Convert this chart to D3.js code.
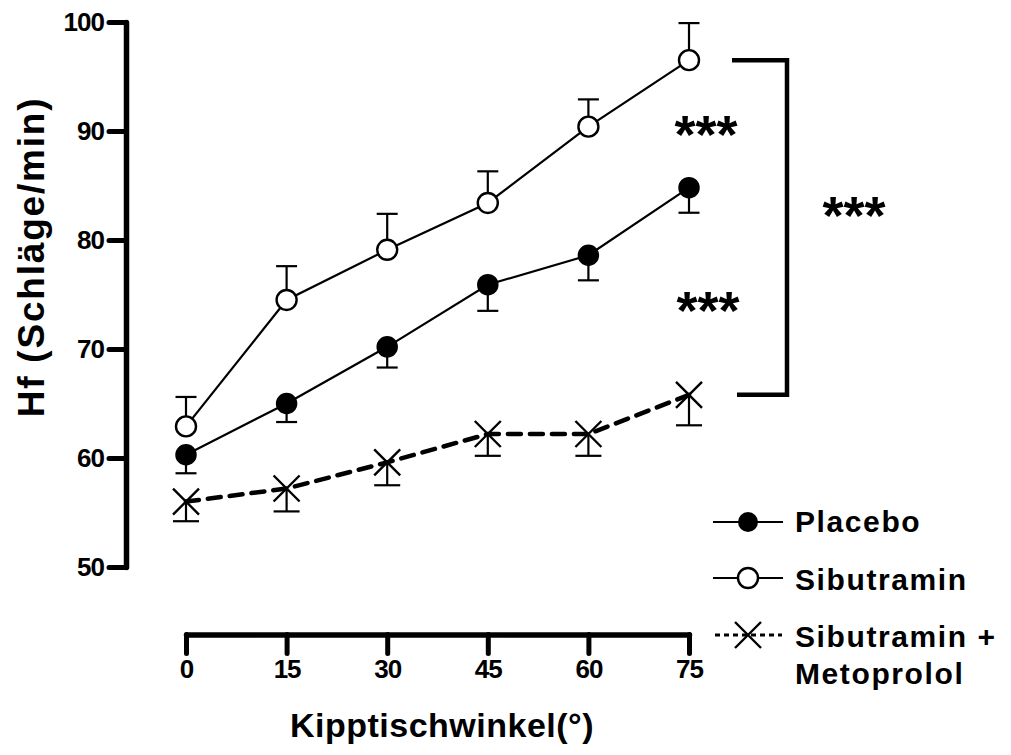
<!DOCTYPE html>
<html>
<head>
<meta charset="utf-8">
<script src="https://cdn.jsdelivr.net/npm/d3@7"></script>
<style>
  body { margin: 0; background: #fff; }
  svg { display: block; font-family: "Liberation Sans", Arial, sans-serif; font-weight: bold; }
</style>
</head>
<body>
<main></main>
<script>
// tilt angles (x categories)
const angles = [0, 15, 30, 45, 60, 75]
const yTicks = [50, 60, 70, 80, 90, 100]

// heart rate means and SEM per group
const placebo = [60.3, 65.0, 70.2, 75.9, 78.6, 84.8]
const placeboErr = [1.7, 1.7, 1.9, 2.4, 2.3, 2.3]
const sibutramin = [62.9, 74.5, 79.1, 83.4, 90.4, 96.5]
const sibutraminErr = [2.7, 3.1, 3.3, 2.9, 2.5, 3.4]
const sibMeto = [56.0, 57.2, 59.6, 62.2, 62.2, 65.8]
const sibMetoErr = [1.8, 2.1, 2.1, 2.0, 2.0, 2.8]

const legendNames = ["Placebo", "Sibutramin", ["Sibutramin +", "Metoprolol"]]

const w = 1011
const h = 755

const svg = d3.select("main").append("svg").attr("width", w).attr("height", h)

const x = d3.scaleLinear().domain([0, 75]).range([186, 689])
const y = d3.scaleLinear().domain([50, 100]).range([567, 22])

// y axis
const yAxis = svg.append("g")
  .attr("transform", "translate(126,0)")
  .call(d3.axisLeft(y).tickValues(yTicks).tickSize(17).tickSizeOuter(0).tickPadding(5))
yAxis.select(".domain").attr("stroke-width", 5.5).attr("stroke-linecap", "round")
yAxis.selectAll(".tick line").attr("stroke-width", 5).attr("stroke-linecap", "round")
yAxis.selectAll(".tick text")
  .attr("font-size", "26px").attr("font-family", "Liberation Sans, Arial").attr("font-weight", "bold")
  .attr("fill", "#000").attr("letter-spacing", "-1px")

// x axis
const xAxis = svg.append("g")
  .attr("transform", "translate(0,634.5)")
  .call(d3.axisBottom(x).tickValues(angles).tickSize(19).tickSizeOuter(0).tickPadding(6))
xAxis.select(".domain").attr("stroke-width", 5.5).attr("stroke-linecap", "round")
xAxis.selectAll(".tick line").attr("stroke-width", 5).attr("stroke-linecap", "round")
xAxis.selectAll(".tick text")
  .attr("font-size", "26px").attr("font-family", "Liberation Sans, Arial").attr("font-weight", "bold")
  .attr("fill", "#000").attr("letter-spacing", "-1px")

// axis titles
svg.append("text")
  .attr("transform", "translate(44,257) rotate(-90)")
  .attr("text-anchor", "middle")
  .attr("font-size", "37px")
  .attr("letter-spacing", "1.8px")
  .text("Hf (Schläge/min)")

svg.append("text")
  .attr("x", 442).attr("y", 737)
  .attr("text-anchor", "middle")
  .attr("font-size", "34px")
  .attr("letter-spacing", "0.5px")
  .text("Kipptischwinkel(°)")

const toPts = (vals) => vals.map((v, i) => ({ a: angles[i], v: v }))
const line = d3.line().x((d) => x(d.a)).y((d) => y(d.v))

// error bars: dir +1 = up, -1 = down
const drawErr = (vals, errs, dir, capW) => {
  const g = svg.append("g").attr("stroke", "#000").attr("stroke-width", 2.2)
  vals.forEach((v, i) => {
    const end = y(v + dir * errs[i])
    g.append("line").attr("x1", x(angles[i])).attr("x2", x(angles[i]))
      .attr("y1", y(v)).attr("y2", end)
    g.append("line").attr("x1", x(angles[i]) - capW / 2).attr("x2", x(angles[i]) + capW / 2)
      .attr("y1", end).attr("y2", end)
  })
}

drawErr(sibutramin, sibutraminErr, 1, 21)
drawErr(placebo, placeboErr, -1, 21)
drawErr(sibMeto, sibMetoErr, -1, 26)

// lines
svg.append("path").datum(toPts(sibutramin)).attr("d", line)
  .attr("fill", "none").attr("stroke", "#000").attr("stroke-width", 2.2)
svg.append("path").datum(toPts(placebo)).attr("d", line)
  .attr("fill", "none").attr("stroke", "#000").attr("stroke-width", 2.2)
svg.append("path").datum(toPts(sibMeto)).attr("d", line)
  .attr("fill", "none").attr("stroke", "#000").attr("stroke-width", 4.5)
  .attr("stroke-dasharray", "13,9").attr("stroke-linecap", "round")

const xMark = (g, cx, cy, s) => {
  g.append("path")
    .attr("d", `M${cx - s},${cy - s}L${cx + s},${cy + s}M${cx - s},${cy + s}L${cx + s},${cy - s}`)
    .attr("stroke", "#000").attr("stroke-width", 2.4).attr("fill", "none")
}

// markers
svg.selectAll(".sib").data(toPts(sibutramin)).enter().append("circle")
  .attr("cx", (d) => x(d.a)).attr("cy", (d) => y(d.v)).attr("r", 10)
  .attr("fill", "#fff").attr("stroke", "#000").attr("stroke-width", 2.4)
svg.selectAll(".pla").data(toPts(placebo)).enter().append("circle")
  .attr("cx", (d) => x(d.a)).attr("cy", (d) => y(d.v)).attr("r", 10)
  .attr("fill", "#000").attr("stroke", "#000").attr("stroke-width", 1.5)
const xg = svg.append("g")
toPts(sibMeto).forEach((d) => xMark(xg, x(d.a), y(d.v), 13))

// significance bracket
const bx = 787
const by1 = y(sibutramin[5])
const by2 = y(sibMeto[5])
svg.append("path")
  .attr("d", `M732,${by1}H${bx}V${by2}H737`)
  .attr("fill", "none").attr("stroke", "#000").attr("stroke-width", 4.5)

const stars = [
  { x: 706, y: 153 },
  { x: 708, y: 329 },
  { x: 854, y: 234 },
]
svg.selectAll(".star").data(stars).enter().append("text")
  .attr("x", (d) => d.x).attr("y", (d) => d.y)
  .attr("text-anchor", "middle").attr("font-size", "54px")
  .text("***")

// legend
const legY = [522, 578, 635]
const lg = svg.append("g")
lg.append("line").attr("x1", 713).attr("x2", 783).attr("y1", legY[0]).attr("y2", legY[0])
  .attr("stroke", "#000").attr("stroke-width", 2.2)
lg.append("circle").attr("cx", 748).attr("cy", legY[0]).attr("r", 10).attr("fill", "#000")
lg.append("line").attr("x1", 713).attr("x2", 783).attr("y1", legY[1]).attr("y2", legY[1])
  .attr("stroke", "#000").attr("stroke-width", 2.2)
lg.append("circle").attr("cx", 748).attr("cy", legY[1]).attr("r", 10)
  .attr("fill", "#fff").attr("stroke", "#000").attr("stroke-width", 2.4)
lg.append("line").attr("x1", 715).attr("x2", 782).attr("y1", legY[2]).attr("y2", legY[2])
  .attr("stroke", "#000").attr("stroke-width", 3).attr("stroke-dasharray", "5,4")
xMark(lg, 748, legY[2], 13)

const legText = lg.append("g").attr("font-size", "30px").attr("letter-spacing", "1.6px")
legText.append("text").attr("x", 795).attr("y", 532).text(legendNames[0])
legText.append("text").attr("x", 795).attr("y", 590).text(legendNames[1])
legText.append("text").attr("x", 795).attr("y", 647).text(legendNames[2][0])
legText.append("text").attr("x", 795).attr("y", 684).text(legendNames[2][1])
</script>
</body>
</html>
